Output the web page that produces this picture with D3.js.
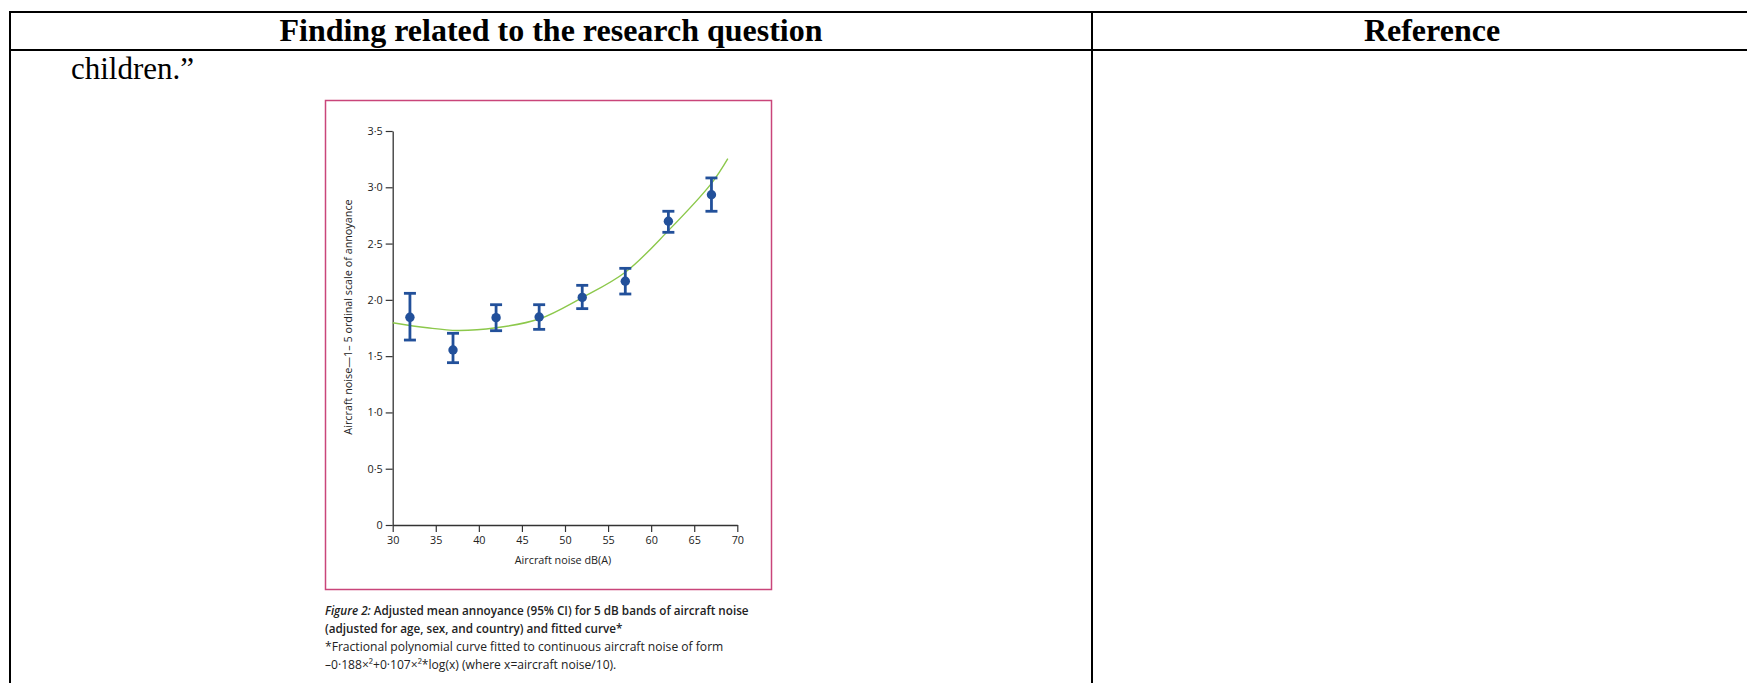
<!DOCTYPE html>
<html>
<head>
<meta charset="utf-8">
<script src="https://cdn.jsdelivr.net/npm/d3@7"></script>
<style>
  body { margin: 0; background: #fff; }
  svg { display: block; }
</style>
</head>
<body>
<div id="page"></div>
<script>
// band mid-points (dB) and adjusted mean annoyance with 95% CI
var noiseBands = [32, 37, 42, 47, 52, 57, 62, 67];
var meanAnnoyance = [1.845, 1.555, 1.842, 1.848, 2.022, 2.165, 2.698, 2.934];
var ciLower = [1.643, 1.442, 1.726, 1.738, 1.922, 2.052, 2.600, 2.787];
var ciUpper = [2.058, 1.703, 1.957, 1.957, 2.129, 2.280, 2.787, 3.083];

// fitted curve
var curveNoise = [30, 34, 37.5, 42, 47, 52, 57, 62, 67, 68.9];
var curveValue = [1.797, 1.752, 1.728, 1.752, 1.830, 2.020, 2.245, 2.615, 3.035, 3.255];

var xTicks = [30, 35, 40, 45, 50, 55, 60, 65, 70];
var yTicks = [0, 0.5, 1, 1.5, 2, 2.5, 3, 3.5];
var yTickLabels = ["0", "0·5", "1·0", "1·5", "2·0", "2·5", "3·0", "3·5"];

var captionLines = [
    "Adjusted mean annoyance (95% CI) for 5 dB bands of aircraft noise",
    "(adjusted for age, sex, and country) and fitted curve*",
    "*Fractional polynomial curve fitted to continuous aircraft noise of form",
    "–0·188×²+0·107×²*log(x) (where x=aircraft noise/10)."
];

var W = 1747, H = 683;
var colDivider = 1092, tableRight = 1772;

var svg = d3.select("#page")
    .append("svg")
    .attr("width", W)
    .attr("height", H);

svg.append("rect").attr("width", W).attr("height", H).attr("fill", "#fff");

// ---- table frame ----
var frame = svg.append("g").attr("stroke", "#000").attr("stroke-width", 2);
frame.append("line").attr("x1", 9).attr("x2", W).attr("y1", 12).attr("y2", 12);
frame.append("line").attr("x1", 9).attr("x2", W).attr("y1", 50).attr("y2", 50);
frame.append("line").attr("x1", 10).attr("x2", 10).attr("y1", 11).attr("y2", H);
frame.append("line").attr("x1", colDivider).attr("x2", colDivider).attr("y1", 11).attr("y2", H);

svg.append("text")
    .attr("x", (10 + colDivider) / 2)
    .attr("y", 41)
    .attr("text-anchor", "middle")
    .style("font-family", "'Liberation Serif', 'Times New Roman', serif")
    .style("font-weight", "bold")
    .style("font-size", "32px")
    .text("Finding related to the research question");

svg.append("text")
    .attr("x", (colDivider + tableRight) / 2)
    .attr("y", 41)
    .attr("text-anchor", "middle")
    .style("font-family", "'Liberation Serif', 'Times New Roman', serif")
    .style("font-weight", "bold")
    .style("font-size", "32px")
    .text("Reference");

svg.append("text")
    .attr("x", 71)
    .attr("y", 79)
    .style("font-family", "'Liberation Serif', 'Times New Roman', serif")
    .style("font-size", "31px")
    .text("children.”");

// ---- figure box ----
svg.append("rect")
    .attr("x", 325.5)
    .attr("y", 100.5)
    .attr("width", 446)
    .attr("height", 489)
    .attr("fill", "none")
    .attr("stroke", "#c9457a")
    .attr("stroke-width", 1.5);

var x = d3.scaleLinear().domain([30, 70]).range([392.7, 737.3]);
var y = d3.scaleLinear().domain([0, 3.5]).range([525, 131]);

var chart = svg.append("g")
    .style("font-family", "'Open Sans', sans-serif");

var xAxis = chart.append("g")
    .attr("transform", "translate(0," + y(0) + ")")
    .call(d3.axisBottom(x).tickValues(xTicks).tickSize(7).tickSizeOuter(0).tickPadding(4));

var yAxis = chart.append("g")
    .attr("transform", "translate(" + x(30) + ",0)")
    .call(d3.axisLeft(y).tickValues(yTicks).tickSize(7).tickSizeOuter(0).tickPadding(3)
        .tickFormat(function (d, i) { return yTickLabels[i]; }));

[xAxis, yAxis].forEach(function (ax) {
    ax.select(".domain").attr("stroke", "#333").attr("stroke-width", 1.3);
    ax.selectAll(".tick line").attr("stroke", "#333").attr("stroke-width", 1.2);
    ax.selectAll(".tick text")
        .attr("fill", "#222")
        .style("font-family", "'Open Sans', sans-serif")
        .style("font-size", "10.8px");
});

chart.append("text")
    .attr("x", (x(30) + x(70)) / 2 - 2)
    .attr("y", 564)
    .attr("text-anchor", "middle")
    .attr("fill", "#222")
    .style("font-size", "10.8px")
    .text("Aircraft noise dB(A)");

chart.append("text")
    .attr("transform", "translate(352,317) rotate(-90)")
    .attr("text-anchor", "middle")
    .attr("fill", "#222")
    .style("font-size", "10.8px")
    .text("Aircraft noise—1– 5 ordinal scale of annoyance");

// fitted curve
var curvePts = curveNoise.map(function (d, i) { return [d, curveValue[i]]; });
var line = d3.line()
    .x(function (d) { return x(d[0]); })
    .y(function (d) { return y(d[1]); })
    .curve(d3.curveCatmullRom.alpha(0.5));

chart.append("path")
    .datum(curvePts)
    .attr("fill", "none")
    .attr("stroke", "#8cc84b")
    .attr("stroke-width", 1.4)
    .attr("d", line);

// error bars + means
var blue = "#22509a";
var bars = chart.selectAll(".bar")
    .data(noiseBands)
    .enter().append("g")
    .attr("class", "bar");

bars.append("line")
    .attr("x1", function (d) { return x(d); })
    .attr("x2", function (d) { return x(d); })
    .attr("y1", function (d, i) { return y(ciLower[i]); })
    .attr("y2", function (d, i) { return y(ciUpper[i]); })
    .attr("stroke", blue)
    .attr("stroke-width", 2.8);

[ciLower, ciUpper].forEach(function (arr) {
    bars.append("line")
        .attr("x1", function (d) { return x(d) - 6; })
        .attr("x2", function (d) { return x(d) + 6; })
        .attr("y1", function (d, i) { return y(arr[i]); })
        .attr("y2", function (d, i) { return y(arr[i]); })
        .attr("stroke", blue)
        .attr("stroke-width", 2.8);
});

bars.append("circle")
    .attr("cx", function (d) { return x(d); })
    .attr("cy", function (d, i) { return y(meanAnnoyance[i]); })
    .attr("r", 4.7)
    .attr("fill", blue);

// caption
var cap = svg.append("text")
    .attr("x", 325)
    .attr("y", 615)
    .attr("fill", "#222")
    .style("font-family", "'Open Sans', sans-serif")
    .style("font-size", "11.7px");

cap.append("tspan")
    .style("font-style", "italic")
    .style("font-weight", 600)
    .text("Figure 2: ");
cap.append("tspan").style("font-weight", 600).text(captionLines[0]);

captionLines.slice(1).forEach(function (t, i) {
    svg.append("text")
        .attr("x", 325)
        .attr("y", 633.3 + i * 17.6)
        .attr("fill", "#222")
        .style("font-family", "'Open Sans', sans-serif")
        .style("font-size", i === 0 ? "11.7px" : "12.1px")
        .style("font-weight", i === 0 ? 600 : 400)
        .text(t);
});
</script>
</body>
</html>
